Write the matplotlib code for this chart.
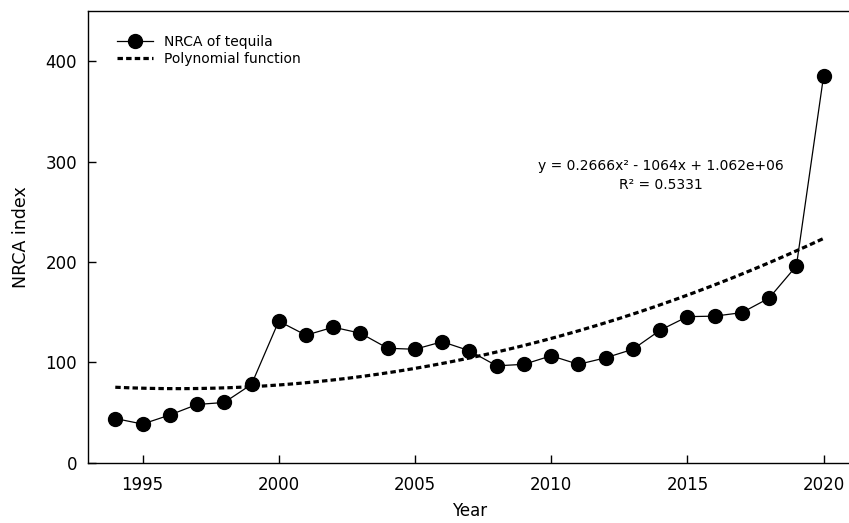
import numpy as np
import matplotlib
matplotlib.use("Agg")
import matplotlib.pyplot as plt

# the reference text is wide, DejaVu Sans is the closest wide sans
plt.rcParams["font.family"] = ["DejaVu Sans"]

# NRCA index of tequila by year
years = np.arange(1994, 2021)
nrca = [44, 38.5, 47.5, 58, 60, 78, 141, 127, 135, 129, 114, 113,
        120.5, 111.5, 96.5, 98, 106.5, 98, 104.5, 113, 132, 145.5,
        146, 149.5, 164, 196, 385.5]

eq_text = "y = 0.2666x² - 1064x + 1.062e+06"
r2_text = "R² = 0.5331"
x_ticks = [1995, 2000, 2005, 2010, 2015, 2020]
y_ticks = [0, 100, 200, 300, 400]

# second-order polynomial trend, as in the original
coef = np.polyfit(years, nrca, 2)
x_fit = np.linspace(years[0], years[-1], 300)
y_fit = np.polyval(coef, x_fit)

fig = plt.figure(figsize=(8.49, 5.23), dpi=100)
ax = fig.add_axes([0.1037, 0.1153, 0.8985, 0.8637])

ax.plot(years, nrca, color="black", linewidth=0.9, marker="o",
        markersize=10, markerfacecolor="black", markeredgecolor="black",
        label="NRCA of tequila", zorder=3)
ax.plot(x_fit, y_fit, color="black", linewidth=2.3, linestyle=(0, (1.7, 1.0)),
        dash_capstyle="butt", label="Polynomial function", zorder=2)

ax.text(2014.03, 295.8, eq_text, ha="center", va="center", fontsize=10)
ax.text(2014.03, 276.4, r2_text, ha="center", va="center", fontsize=10)

ax.set_xlim(1993, 2021)
ax.set_ylim(0, 450)
ax.set_xticks(x_ticks)
ax.set_yticks(y_ticks)
ax.tick_params(direction="in", length=6, width=1.0, labelsize=12)
ax.tick_params(axis="x", pad=9.5)
ax.tick_params(axis="y", pad=8)
for side in ["left", "bottom", "top"]:
    ax.spines[side].set_linewidth(1.0)
ax.spines["right"].set_visible(False)

ax.set_xlabel("Year", fontsize=12, labelpad=6)
ax.set_ylabel("NRCA index", fontsize=12.5, labelpad=11)

ax.legend(loc="upper left", frameon=False, fontsize=10, handlelength=2.6,
          handletextpad=0.75, labelspacing=0.2,
          bbox_to_anchor=(0.022, 0.975))

fig.savefig("out.png", dpi=100)
